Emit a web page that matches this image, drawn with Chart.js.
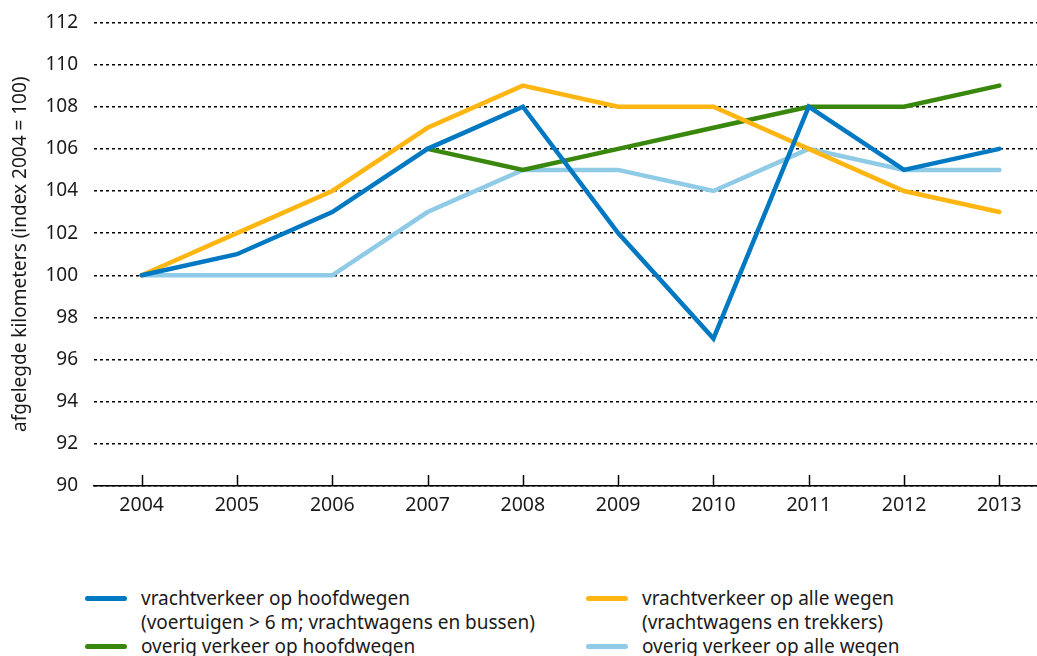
<!DOCTYPE html>
<html>
<head>
<meta charset="utf-8">
<script src="https://cdn.jsdelivr.net/npm/chart.js@4"></script>
<style>
  html, body { margin: 0; padding: 0; background: #fff; }
  body { width: 1037px; height: 656px; overflow: hidden; position: relative; font-family: 'Noto Sans', sans-serif; color: #1a1a1a; }
  .chart-box { position: absolute; left: 0; top: -5px; width: 1037px; height: 545px; overflow: hidden; }
  .legend { position: absolute; left: 0; top: 586px; width: 1037px; }
  .legend__item { position: absolute; font-size: 19px; line-height: 24px; }
  .legend__swatch { position: absolute; width: 42px; height: 5px; border-radius: 3px; top: 10px; }
  .legend__text { position: absolute; white-space: nowrap; }
</style>
</head>
<body>
<div class="chart-box"><canvas id="myChart" width="1047" height="545"></canvas></div>
<div class="legend" id="legend"></div>
<script>
const years = ['2004', '2005', '2006', '2007', '2008', '2009', '2010', '2011', '2012', '2013'];
const yTicks = [90, 92, 94, 96, 98, 100, 102, 104, 106, 108, 110, 112];

const freightMainRoads = [100, 101, 103, 106, 108, 102, 97, 108, 105, 106];
const freightAllRoads = [100, 102, 104, 107, 109, 108, 108, 106, 104, 103];
const otherMainRoads = [null, null, null, 106, 105, 106, 107, 108, 108, 109];
const otherAllRoads = [100, 100, 100, 103, 105, 105, 104, 106, 105, 105];

const seriesLabels = [
  ['vrachtverkeer op hoofdwegen', '(voertuigen > 6 m; vrachtwagens en bussen)'],
  ['vrachtverkeer op alle wegen', '(vrachtwagens en trekkers)'],
  ['overig verkeer op hoofdwegen'],
  ['overig verkeer op alle wegen'],
];
const seriesColors = ['#0079c2', '#ffb612', '#39870c', '#8fcae7'];

const FONT = "'Noto Sans', sans-serif";

function createDataset(label, data, color) {
  return {
    label: label.join(' '),
    data,
    borderColor: color,
    backgroundColor: color,
    borderWidth: 4.5,
    borderCapStyle: 'round',
    borderJoinStyle: 'miter',
    pointRadius: 0,
    tension: 0,
    fill: false,
    spanGaps: false,
  };
}

// little upward tick marks sitting on the x axis line
const upTicks = {
  id: 'upTicks',
  beforeDatasetsDraw(chart) {
    const { ctx, scales: { x }, chartArea } = chart;
    ctx.save();
    ctx.strokeStyle = '#000';
    ctx.lineWidth = 1.5;
    years.forEach((year, i) => {
      const px = Math.round(x.getPixelForValue(i)) + 0.5;
      ctx.beginPath();
      ctx.moveTo(px, chartArea.bottom);
      ctx.lineTo(px, chartArea.bottom - 11);
      ctx.stroke();
    });
    ctx.restore();
  },
};

const ctx = document.getElementById('myChart').getContext('2d');
const myChart = new Chart(ctx, {
  type: 'line',
  data: {
    labels: years,
    datasets: [
      createDataset(seriesLabels[0], freightMainRoads, seriesColors[0]),
      createDataset(seriesLabels[1], freightAllRoads, seriesColors[1]),
      createDataset(seriesLabels[2], otherMainRoads, seriesColors[2]),
      createDataset(seriesLabels[3], otherAllRoads, seriesColors[3]),
    ],
  },
  options: {
    responsive: false,
    animation: false,
    devicePixelRatio: 1,
    layout: { padding: { top: 16, left: 0, right: 0, bottom: 0 } },
    plugins: {
      legend: { display: false },
      tooltip: { enabled: false },
      title: { display: false },
    },
    scales: {
      x: {
        type: 'category',
        offset: true,
        grid: { display: true, drawOnChartArea: false, drawTicks: false, color: 'rgba(0,0,0,0)' },
        border: { display: true, color: '#000', width: 1.5 },
        ticks: { color: '#1a1a1a', font: { family: FONT, size: 19.5 }, padding: 8, maxRotation: 0 },
        afterFit(scale) { scale.height = 54; },
      },
      y: {
        min: 90,
        max: 112,
        afterBuildTicks(scale) { scale.ticks = yTicks.map(v => ({ value: v })); },
        grid: { color: '#000', lineWidth: 1.5, drawTicks: false },
        border: { display: false, dash: [3, 3] },
        ticks: { color: '#1a1a1a', font: { family: FONT, size: 19 }, padding: 16 },
        title: {
          display: true,
          text: 'afgelegde kilometers (index 2004 = 100)',
          color: '#1a1a1a',
          font: { family: FONT, size: 19 },
          padding: { top: 9, bottom: 0 },
        },
        afterFit(scale) { scale.width = 94; },
      },
    },
  },
  plugins: [upTicks],
});

// legend below the chart, two columns
const legendPos = [
  { left: 85, top: 0 },
  { left: 586, top: 0 },
  { left: 85, top: 48 },
  { left: 586, top: 48 },
];
const legendBox = document.getElementById('legend');
seriesLabels.forEach((lines, i) => {
  const item = document.createElement('div');
  item.className = 'legend__item';
  item.style.left = legendPos[i].left + 'px';
  item.style.top = legendPos[i].top + 'px';
  const sw = document.createElement('div');
  sw.className = 'legend__swatch';
  sw.style.background = seriesColors[i];
  const txt = document.createElement('div');
  txt.className = 'legend__text';
  txt.style.left = '56px';
  txt.innerHTML = lines.map(l => l.replace(/&/g, '&amp;').replace(/>/g, '&gt;')).join('<br>');
  item.appendChild(sw);
  item.appendChild(txt);
  legendBox.appendChild(item);
});
</script>
</body>
</html>
